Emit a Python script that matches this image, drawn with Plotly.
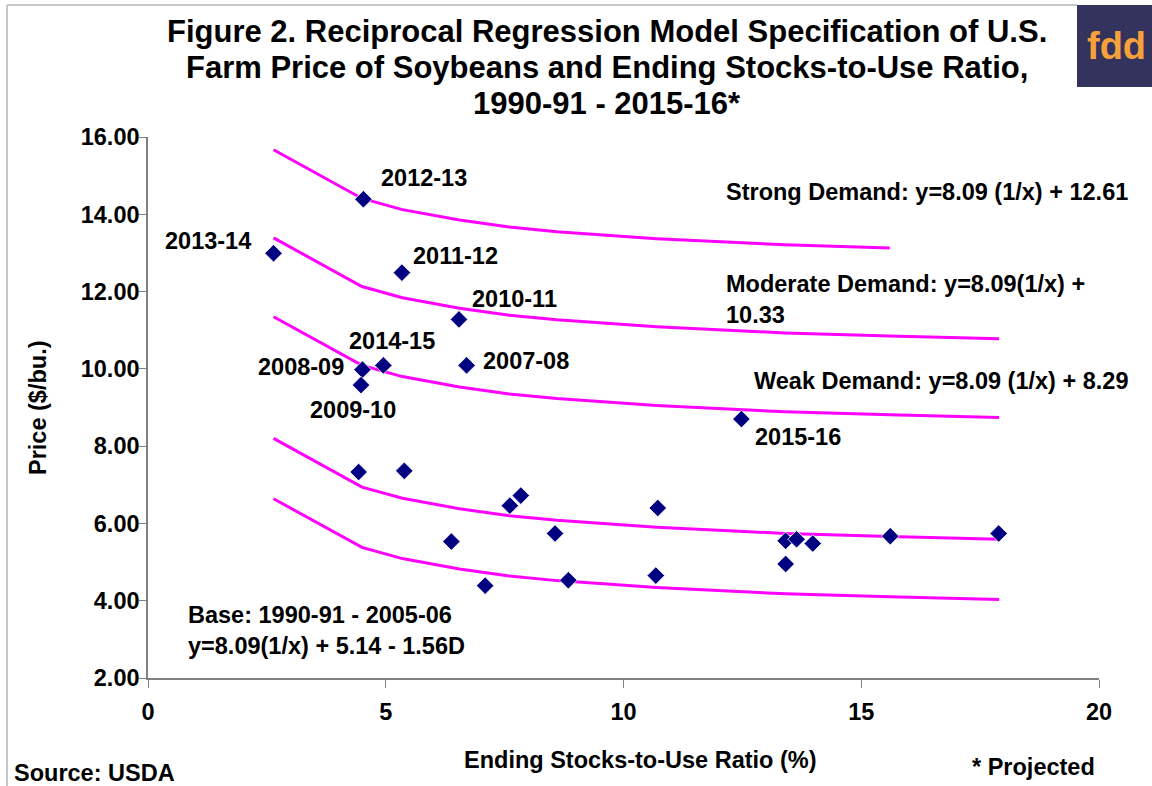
import plotly.graph_objects as go

# ---- data ----
base_x = [4.43, 5.39, 7.61, 7.84, 6.38, 8.56, 7.09, 8.84, 10.72, 10.68, 13.41, 13.64, 13.98, 13.41, 15.61, 17.89]
base_y = [7.33, 7.36, 6.46, 6.72, 5.53, 5.74, 4.39, 4.53, 6.40, 4.65, 5.55, 5.59, 5.48, 4.95, 5.67, 5.74]

recent_labels = ["2007-08", "2008-09", "2009-10", "2010-11", "2011-12", "2012-13", "2013-14", "2014-15", "2015-16"]
recent_x = [6.70, 4.51, 4.48, 6.54, 5.34, 4.53, 2.64, 4.95, 12.48]
recent_y = [10.09, 9.98, 9.58, 11.28, 12.49, 14.39, 12.99, 10.09, 8.70]

curve_x = [2.64, 4.5, 5.35, 6.55, 7.6, 8.6, 10.7, 13.4, 15.6, 17.9]
strong_x = [2.64, 4.5, 5.35, 6.55, 7.6, 8.6, 10.7, 13.4, 15.6]
strong_y = [15.67, 14.41, 14.12, 13.85, 13.67, 13.55, 13.37, 13.21, 13.13]
moderate_y = [13.39, 12.13, 11.84, 11.57, 11.39, 11.27, 11.09, 10.93, 10.85, 10.78]
weak_y = [11.35, 10.09, 9.80, 9.53, 9.35, 9.23, 9.05, 8.89, 8.81, 8.74]
base_d0_y = [8.20, 6.94, 6.65, 6.38, 6.20, 6.08, 5.90, 5.74, 5.66, 5.59]
base_d1_y = [6.64, 5.38, 5.09, 4.82, 4.64, 4.52, 4.34, 4.18, 4.10, 4.03]

x_ticks = [0, 5, 10, 15, 20]
y_ticks = [2, 4, 6, 8, 10, 12, 14, 16]

# ---- layout helpers (pixel -> paper) ----
L, R, T, B = 148, 1099, 137, 678
def px(x):
    return (x - L) / (R - L)
def py(y):
    return (B - y) / (B - T)

FONT = "Liberation Sans, Arial, sans-serif"
MAG = "#FF00FF"
NAVY = "#000080"
FS = 23.5

fig = go.Figure()
for cy, cx in [(strong_y, strong_x), (moderate_y, curve_x), (weak_y, curve_x),
               (base_d0_y, curve_x), (base_d1_y, curve_x)]:
    fig.add_trace(go.Scatter(x=cx, y=cy, mode="lines",
                             line=dict(color=MAG, width=3), showlegend=False,
                             hoverinfo="skip"))

fig.add_trace(go.Scatter(x=base_x + recent_x, y=base_y + recent_y, mode="markers",
                         marker=dict(symbol="diamond", size=13.5, color=NAVY,
                                     line=dict(color="white", width=0.8)),
                         showlegend=False))

ann = []
def t(text, x, y, size=FS, xanchor="center", yanchor="middle", xref="x", yref="y", align="center", angle=0, color="black"):
    ann.append(dict(text=text, x=x, y=y, xref=xref, yref=yref, showarrow=False,
                    xanchor=xanchor, yanchor=yanchor, align=align, textangle=angle,
                    font=dict(family=FONT, size=size, color=color, weight="bold")))

label_pos = {
    "2012-13": (5.80, 14.93), "2013-14": (1.26, 13.30), "2011-12": (6.46, 12.91),
    "2010-11": (7.70, 11.80), "2014-15": (5.13, 10.71), "2008-09": (3.22, 10.04),
    "2007-08": (7.95, 10.20), "2009-10": (4.31, 8.93), "2015-16": (13.67, 8.23),
}
for lab in recent_labels:
    lx, ly = label_pos[lab]
    t(lab, lx, ly)

t("Strong Demand: y=8.09 (1/x) + 12.61", 12.11, 14.57, xanchor="left")
t("Moderate Demand: y=8.09(1/x) +<br>10.33", 12.11, 11.80, xanchor="left", align="left")
t("Weak Demand: y=8.09 (1/x) + 8.29", 12.70, 9.68, xanchor="left")
t("Base: 1990-91 - 2005-06<br>y=8.09(1/x) + 5.14 - 1.56D", 0.80, 3.24, xanchor="left", align="left")

# titles
t("Figure 2. Reciprocal Regression Model Specification of U.S.", px(607), py(32), size=31, xref="paper", yref="paper")
t("Farm Price of Soybeans and Ending Stocks-to-Use Ratio,", px(607), py(68), size=31, xref="paper", yref="paper")
t("1990-91 - 2015-16*", px(607), py(103), size=31, xref="paper", yref="paper")

t("Price ($/bu.)", px(38), py(408), xref="paper", yref="paper", angle=-90)
t("Ending Stocks-to-Use Ratio (%)", px(640), py(760), xref="paper", yref="paper")
t("Source: USDA", px(12), py(773), xref="paper", yref="paper", xanchor="left")
t("* Projected", px(1097), py(767), xref="paper", yref="paper", xanchor="right")
t("fdd", px(1116), py(46), size=38, xref="paper", yref="paper", color="#F7A13B")

shapes = [
    dict(type="rect", xref="paper", yref="paper", x0=px(1077), x1=px(1160), y0=py(87), y1=py(5),
         fillcolor="#33335E", line=dict(width=0), layer="below"),
    dict(type="line", xref="paper", yref="paper", x0=px(7), x1=px(1077), y0=py(5), y1=py(5),
         line=dict(color="#C8C8C8", width=2)),
    dict(type="line", xref="paper", yref="paper", x0=px(7), x1=px(7), y0=py(5), y1=py(800),
         line=dict(color="#C8C8C8", width=2)),
]

fig.update_layout(
    width=1152, height=786,
    margin=dict(l=L, r=1152 - R, t=T, b=786 - B),
    paper_bgcolor="white", plot_bgcolor="white",
    annotations=ann, shapes=shapes,
    font=dict(family=FONT, color="black"),
    xaxis=dict(range=[0, 20], tickvals=x_ticks, showgrid=False, zeroline=False,
               showline=True, linecolor="#808080", linewidth=1.5,
               ticks="outside", ticklen=8, tickcolor="#808080", ticklabelstandoff=4,
               tickfont=dict(family=FONT, size=FS, color="black", weight="bold")),
    yaxis=dict(range=[2, 16], tickvals=y_ticks, tickformat=".2f", showgrid=False, zeroline=False,
               showline=True, linecolor="#808080", linewidth=1.5,
               ticks="outside", ticklen=7, tickcolor="#808080", ticklabelstandoff=-5,
               tickfont=dict(family=FONT, size=FS, color="black", weight="bold")),
)

fig.write_html("out.html", config={"displayModeBar": False},
               post_script="document.body.style.margin='0';document.body.style.overflow='hidden';")
